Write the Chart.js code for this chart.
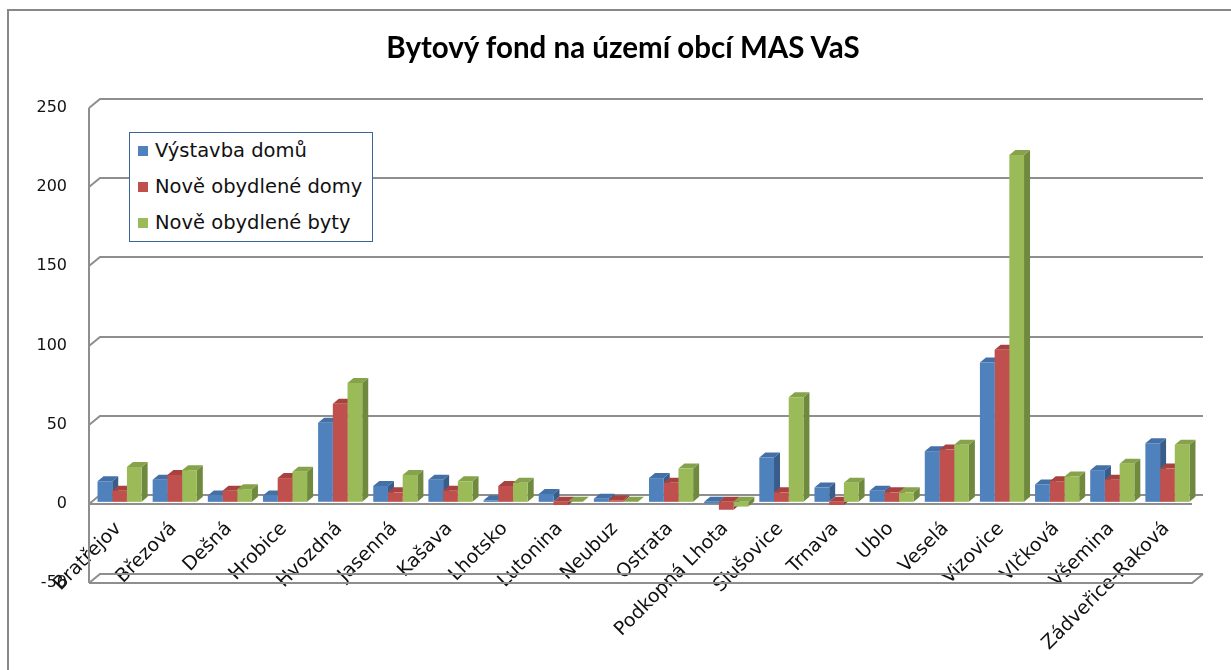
<!DOCTYPE html>
<html><head><meta charset="utf-8">
<script src="https://cdn.jsdelivr.net/npm/chart.js@4.4.1/dist/chart.umd.min.js"></script>
<style>
html,body{margin:0;padding:0;background:#fff;}
#wrap{position:relative;width:1231px;height:670px;overflow:hidden;background:#fff}
#frame{position:absolute;left:7px;top:9px;width:1240px;height:700px;border-left:2px solid #888;border-top:2px solid #888;pointer-events:none}
#title{position:absolute;left:323px;width:600px;top:28px;height:38px;line-height:38px;text-align:center;font-family:'Lato';font-weight:bold;font-size:29.5px;color:#000;white-space:nowrap}
#legend{position:absolute;left:129px;top:132px;width:242px;height:108px;border:1.5px solid #3b659a;font-family:'DejaVu Sans';font-size:19.5px;color:#111;background:#fff}
.item{height:36px;line-height:36px;white-space:nowrap;padding-left:8px}
.sw{display:inline-block;width:10px;height:10px;margin-right:7px;vertical-align:middle;position:relative;top:-1px}
</style>
</head><body>
<div id="wrap">
<canvas id="c" width="1231" height="670"></canvas>
<div id="frame"></div>
<div id="title"></div>
<div id="legend"></div>
</div>
<script>
const titleText = 'Bytový fond na území obcí MAS VaS';
const categories = ['Bratřejov','Březová','Dešná','Hrobice','Hvozdná','Jasenná','Kašava','Lhotsko','Lutonina','Neubuz','Ostrata','Podkopná Lhota','Slušovice','Trnava','Ublo','Veselá','Vizovice','Vlčková','Všemina','Zádveřice-Raková'];
const seriesNames = ['Výstavba domů','Nově obydlené domy','Nově obydlené byty'];
const vystavbaDomu = [13,14,4,4,50,10,14,1,5,2,15,-1,28,9,7,32,88,11,20,37];
const noveObydleneDomy = [7,17,7,15,62,6,7,10,-2,1,12,-5,6,-2,6,33,96,13,14,21];
const noveObydleneByty = [22,20,8,19,75,17,13,12,0,0,21,-3,66,12,6,36,219,16,24,36];
const yTicks = [-50,0,50,100,150,200,250];

const frontCol = ['#4F81BD','#C0504D','#9BBB59'];
const sideCol = ['#385D8A','#8C3A38','#6F8A3E'];
const topCol = ['#4470A8','#A8423F','#86A34B'];
const wall = {dx: 11, dy: -9};
const barD = {dx: 6, dy: -5};
const shift = {x: 3, y: -2};

document.getElementById('title').textContent = titleText;

const threeD = {
  id: 'threeD',
  beforeDatasetsDraw(chart) {
    const {ctx, chartArea: a, scales: {y}} = chart;
    ctx.save();
    ctx.lineWidth = 2;
    ctx.strokeStyle = '#8e8e8e';
    y.ticks.forEach(t => {
      const py = Math.round(y.getPixelForValue(t.value));
      ctx.beginPath();
      ctx.moveTo(a.left, py);
      ctx.lineTo(a.left + wall.dx, py + wall.dy);
      ctx.lineTo(a.right + wall.dx, py + wall.dy);
      ctx.stroke();
    });
    ctx.beginPath();
    ctx.moveTo(a.left, Math.round(y.getPixelForValue(y.max)));
    ctx.lineTo(a.left, a.bottom);
    ctx.stroke();
    const pm = Math.round(y.getPixelForValue(y.min));
    ctx.beginPath();
    ctx.moveTo(a.left, pm);
    ctx.lineTo(a.right, pm);
    ctx.lineTo(a.right + wall.dx, pm + wall.dy);
    ctx.stroke();
    const p0 = Math.round(y.getPixelForValue(0));
    ctx.beginPath();
    ctx.moveTo(a.left, p0);
    ctx.lineTo(a.right, p0);
    ctx.stroke();
    ctx.restore();

    ctx.save();
    ctx.translate(shift.x, shift.y);
    chart.data.datasets.forEach((ds, i) => {
      const meta = chart.getDatasetMeta(i);
      meta.data.forEach(el => {
        const p = el.getProps(['x','y','base','width'], true);
        const l = p.x - p.width / 2, r = p.x + p.width / 2;
        const t = Math.min(p.y, p.base), b = Math.max(p.y, p.base);
        ctx.fillStyle = sideCol[i];
        ctx.beginPath();
        ctx.moveTo(r, t); ctx.lineTo(r + barD.dx, t + barD.dy);
        ctx.lineTo(r + barD.dx, b + barD.dy); ctx.lineTo(r, b);
        ctx.closePath(); ctx.fill();
        ctx.fillStyle = topCol[i];
        ctx.beginPath();
        ctx.moveTo(l, t); ctx.lineTo(r, t);
        ctx.lineTo(r + barD.dx, t + barD.dy); ctx.lineTo(l + barD.dx, t + barD.dy);
        ctx.closePath(); ctx.fill();
      });
    });
  },
  afterDatasetsDraw(chart) {
    chart.ctx.restore();
  }
};

const legendEl = document.getElementById('legend');
seriesNames.forEach((n, i) => {
  const d = document.createElement('div');
  d.className = 'item';
  d.innerHTML = '<span class="sw" style="background:' + frontCol[i] + '"></span>' + n;
  legendEl.appendChild(d);
});

new Chart(document.getElementById('c'), {
  type: 'bar',
  data: {
    labels: categories,
    datasets: [
      {label: seriesNames[0], data: vystavbaDomu, backgroundColor: frontCol[0]},
      {label: seriesNames[1], data: noveObydleneDomy, backgroundColor: frontCol[1]},
      {label: seriesNames[2], data: noveObydleneByty, backgroundColor: frontCol[2]}
    ]
  },
  options: {
    responsive: false,
    animation: false,
    devicePixelRatio: 1,
    datasets: {bar: {categoryPercentage: 0.8, barPercentage: 1.0, borderWidth: 0}},
    layout: {padding: {left: 14, right: 39, top: 108, bottom: 87}},
    plugins: {
      legend: {display: false},
      tooltip: {enabled: false},
      title: {display: false}
    },
    scales: {
      x: {
        position: {y: 0},
        grid: {display: false, drawTicks: false},
        border: {display: false},
        ticks: {autoSkip: false, maxRotation: 45, minRotation: 45, padding: 14, labelOffset: 2, font: {family: 'DejaVu Sans', size: 19}, color: '#111'},
        afterFit(s) { s.paddingLeft = 0; s.paddingRight = 0; }
      },
      y: {
        min: -50, max: 250,
        afterBuildTicks(s) { s.ticks = yTicks.map(v => ({value: v})); },
        grid: {display: false, drawTicks: false},
        border: {display: false},
        ticks: {padding: 22, font: {family: 'DejaVu Sans', size: 16}, color: '#111'},
        afterFit(s) { s.width = 75; }
      }
    }
  },
  plugins: [threeD]
});
</script>
</body></html>
